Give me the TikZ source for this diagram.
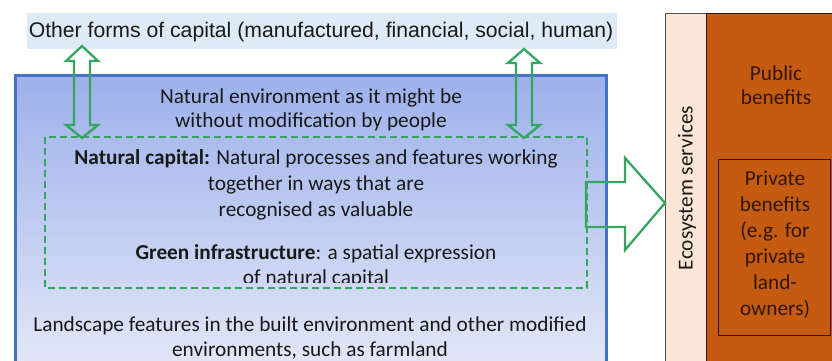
\documentclass[tikz,border=0pt]{standalone}
\usepackage{fontspec}
\setmainfont{Carlito}
\newfontfamily\arialfont{Liberation Sans}

\definecolor{capblue}{RGB}{222,235,247}
\definecolor{envblue}{RGB}{68,114,196}
\definecolor{envtop}{RGB}{156,176,234}
\definecolor{envbottom}{RGB}{230,234,248}
\definecolor{capgreen}{RGB}{52,166,96}
\definecolor{servpeach}{RGB}{251,229,214}
\definecolor{servline}{RGB}{90,80,75}
\definecolor{benorange}{RGB}{197,90,17}
\definecolor{bendark}{RGB}{50,22,5}

\begin{document}
\begin{tikzpicture}[x=1pt,y=-1pt,
    txt/.style={font=\fontsize{21.3}{24.5}\selectfont, align=center, inner sep=0pt, text=black!90},
    hollow/.style={draw=capgreen, line width=2.3pt, line join=miter}]
    \useasboundingbox (0,0) rectangle (832,360);

    % other forms of capital
    \fill[capblue] (27,13) rectangle (617,49);
    \node[txt, font=\arialfont\fontsize{21.2}{24}\selectfont] (other) at (321,32) {Other forms of capital (manufactured, financial, social, human)};

    % natural environment
    \shade[top color=envtop, bottom color=envbottom] (15,75) rectangle (606,380);
    \draw[envblue, line width=3pt] (15,75) rectangle (606,380);
    \draw[capgreen, line width=2pt, dash pattern=on 7pt off 4pt] (45,137) rectangle (587,288);

    \node[txt] (wild) at (311,110) {Natural environment as it might be\\without modification by people};
    \node[txt, font=\fontsize{21.3}{26}\selectfont] (natcap) at (316,185) {\textbf{Natural capital:} Natural processes and features working\\together in ways that are\\recognised as valuable};
    \begin{scope}
        \clip (45,137) rectangle (587,282);
        \node[txt, font=\fontsize{21.3}{25}\selectfont] (greeninf) at (316,266) {\textbf{Green infrastructure}: a spatial expression\\of natural capital};
    \end{scope}
    \node[txt] (landscape) at (310,338) {Landscape features in the built environment and other modified\\environments, such as farmland};

    % ecosystem services and benefits
    \draw[servline, fill=servpeach] (665,13) rectangle (706,380);
    \node[txt, rotate=90] (eco) at (687,188) {Ecosystem services};
    \draw[bendark, fill=benorange] (706,13) rectangle (840,380);
    \node[txt, text=bendark] (public) at (776,85) {Public\\benefits};
    \draw[bendark] (718,159) rectangle (830,335);
    \node[txt, text=bendark, font=\fontsize{21.3}{26}\selectfont] (private) at (775,245) {Private\\benefits\\(e.g. for\\private\\land-\\owners)};

    % hollow arrows
    \draw[hollow] (74,61) -- (66,61) -- (82,46) -- (98,61) -- (90,61) -- (90,125) -- (98,125) -- (82,138) -- (66,125) -- (74,125) -- cycle;
    \draw[hollow] (516,63) -- (508,63) -- (524,49) -- (540,63) -- (532,63) -- (532,125) -- (540,125) -- (524,138) -- (508,125) -- (516,125) -- cycle;
    \draw[hollow] (586,182) -- (625,182) -- (625,158) -- (665,203) -- (625,250) -- (625,227) -- (586,227) -- cycle;

\end{tikzpicture}
\end{document}
